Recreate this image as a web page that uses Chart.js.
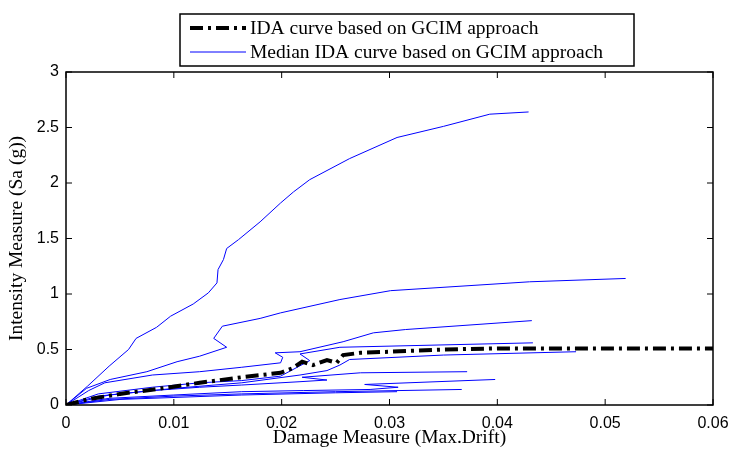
<!DOCTYPE html>
<html>
<head>
<meta charset="utf-8">
<script src="https://cdn.jsdelivr.net/npm/chart.js@4.4.1/dist/chart.umd.min.js"></script>
<style>
  html, body { margin: 0; padding: 0; background: #fff; }
  #wrap { width: 731px; height: 450px; }
</style>
</head>
<body>
<div id="wrap"><canvas id="myChart" width="731" height="450"></canvas></div>
<script>
// axis ticks
var xTicks = [0, 0.01, 0.02, 0.03, 0.04, 0.05, 0.06];
var xTickLabels = ['0', '0.01', '0.02', '0.03', '0.04', '0.05', '0.06'];
var yTicks = [0, 0.5, 1, 1.5, 2, 2.5, 3];
var yTickLabels = ['0', '0.5', '1', '1.5', '2', '2.5', '3'];

// IDA curve based on GCIM approach (black dash-dot)
var idaX = [0, 0.002, 0.005, 0.0089, 0.0124, 0.0163, 0.0199, 0.021, 0.0219, 0.0229, 0.0242, 0.0251, 0.0257, 0.0273, 0.03, 0.035, 0.04, 0.045, 0.06];
var idaY = [0, 0.05, 0.1, 0.15, 0.2, 0.25, 0.29, 0.33, 0.39, 0.36, 0.405, 0.38, 0.45, 0.47, 0.48, 0.5, 0.51, 0.51, 0.51];

// individual IDA curves (blue)
var c1X = [0, 0.002, 0.004, 0.0058, 0.0065, 0.0084, 0.0097, 0.0118, 0.0132, 0.014, 0.0141, 0.0146, 0.0149, 0.016, 0.018, 0.0199, 0.0211, 0.0226, 0.0263, 0.0307, 0.035, 0.0393, 0.0429];
var c1Y = [0, 0.17, 0.35, 0.5, 0.6, 0.7, 0.8, 0.91, 1.01, 1.1, 1.22, 1.31, 1.41, 1.49, 1.65, 1.82, 1.92, 2.03, 2.22, 2.41, 2.51, 2.62, 2.64];
var c2X = [0, 0.0019, 0.0041, 0.0075, 0.0103, 0.0124, 0.0149, 0.0137, 0.0145, 0.018, 0.0199, 0.0254, 0.0301, 0.043, 0.0519];
var c2Y = [0, 0.15, 0.23, 0.3, 0.39, 0.44, 0.52, 0.6, 0.71, 0.78, 0.83, 0.95, 1.03, 1.11, 1.14];
var c3X = [0, 0.0021, 0.0036, 0.008, 0.0124, 0.0163, 0.0199, 0.0201, 0.0194, 0.0217, 0.0257, 0.0285, 0.0315, 0.0432];
var c3Y = [0, 0.13, 0.2, 0.27, 0.3, 0.34, 0.38, 0.43, 0.47, 0.48, 0.57, 0.65, 0.68, 0.76];
var c4X = [0, 0.003, 0.008, 0.0124, 0.0163, 0.0199, 0.0226, 0.0217, 0.0254, 0.0433];
var c4Y = [0, 0.1, 0.16, 0.2, 0.22, 0.26, 0.4, 0.46, 0.52, 0.56];
var c5X = [0, 0.004, 0.01, 0.0163, 0.0217, 0.0242, 0.0254, 0.0263, 0.035, 0.0473];
var c5Y = [0, 0.09, 0.15, 0.2, 0.27, 0.31, 0.36, 0.41, 0.45, 0.48];
var c6X = [0, 0.003, 0.008, 0.0124, 0.0163, 0.0217, 0.0242, 0.0219, 0.0273, 0.0372];
var c6Y = [0, 0.08, 0.13, 0.16, 0.18, 0.21, 0.225, 0.25, 0.29, 0.3];
var c7X = [0, 0.004, 0.01, 0.0163, 0.022, 0.0282, 0.0308, 0.0277, 0.0398];
var c7Y = [0, 0.06, 0.09, 0.12, 0.13, 0.14, 0.16, 0.185, 0.23];
var c8X = [0, 0.004, 0.01, 0.0163, 0.025, 0.0367];
var c8Y = [0, 0.05, 0.08, 0.1, 0.12, 0.14];
var c9X = [0, 0.005, 0.0163, 0.025, 0.0307];
var c9Y = [0, 0.05, 0.09, 0.11, 0.12];

function pts(xs, ys) {
    return xs.map(function (v, i) { return { x: v, y: ys[i] }; });
}

function blue(xs, ys, label) {
    return {
        label: label,
        data: pts(xs, ys),
        showLine: true,
        borderColor: '#0000ff',
        borderWidth: 1,
        pointRadius: 0,
        fill: false
    };
}

var boxPlugin = {
    id: 'box',
    afterDraw: function (chart) {
        var ctx = chart.ctx, a = chart.chartArea;
        var xs = chart.scales.x, ys = chart.scales.y;
        ctx.save();
        ctx.strokeStyle = '#000';
        ctx.lineWidth = 1.5;
        ctx.strokeRect(a.left, a.top, a.right - a.left, a.bottom - a.top);
        ctx.lineWidth = 1;
        ctx.beginPath();
        xTicks.forEach(function (v) {
            var p = xs.getPixelForValue(v);
            ctx.moveTo(p, a.bottom); ctx.lineTo(p, a.bottom - 6);
            ctx.moveTo(p, a.top); ctx.lineTo(p, a.top + 6);
        });
        yTicks.forEach(function (v) {
            var p = ys.getPixelForValue(v);
            ctx.moveTo(a.left, p); ctx.lineTo(a.left + 6, p);
            ctx.moveTo(a.right, p); ctx.lineTo(a.right - 6, p);
        });
        ctx.stroke();

        // legend box
        var lx = 180, ly = 14, lw = 454, lh = 52;
        ctx.fillStyle = '#fff';
        ctx.fillRect(lx, ly, lw, lh);
        ctx.lineWidth = 1.5;
        ctx.strokeRect(lx, ly, lw, lh);
        var items = chart.data.datasets.filter(function (d) { return d.label; });
        ctx.font = '19.5px "Liberation Serif", "Times New Roman", serif';
        ctx.textBaseline = 'middle';
        ctx.fillStyle = '#000';
        items.forEach(function (d, i) {
            var yy = ly + 14 + i * 24;
            ctx.beginPath();
            ctx.strokeStyle = d.borderColor;
            ctx.lineWidth = d.borderWidth;
            ctx.setLineDash(d.borderDash || []);
            ctx.moveTo(lx + 10, yy);
            ctx.lineTo(lx + 66, yy);
            ctx.stroke();
            ctx.setLineDash([]);
            ctx.fillText(d.label, lx + 70, yy + 1);
        });
        ctx.restore();
    }
};

var myChart;

function createChart() {
    var ctx = document.getElementById('myChart').getContext('2d');
    myChart = new Chart(ctx, {
        type: 'scatter',
        data: {
            datasets: [
                {
                    label: 'IDA curve based on GCIM approach',
                    data: pts(idaX, idaY),
                    showLine: true,
                    borderColor: '#000',
                    borderWidth: 4,
                    borderDash: [13, 5, 3, 5],
                    borderCapStyle: 'butt',
                    pointRadius: 0,
                    fill: false
                },
                blue(c1X, c1Y, 'Median IDA curve based on GCIM approach'),
                blue(c2X, c2Y),
                blue(c3X, c3Y),
                blue(c4X, c4Y),
                blue(c5X, c5Y),
                blue(c6X, c6Y),
                blue(c7X, c7Y),
                blue(c8X, c8Y),
                blue(c9X, c9Y)
            ]
        },
        options: {
            responsive: false,
            animation: false,
            layout: { padding: { top: 72, right: 0, left: 0, bottom: 0 } },
            plugins: {
                legend: { display: false },
                tooltip: { enabled: false }
            },
            scales: {
                x: {
                    type: 'linear',
                    min: 0,
                    max: 0.06,
                    grid: { display: false, drawTicks: false },
                    border: { display: false },
                    afterBuildTicks: function (s) { s.ticks = xTicks.map(function (v) { return { value: v }; }); },
                    afterFit: function (s) { s.height = 45; s.paddingRight = 18; },
                    ticks: {
                        padding: 9,
                        color: '#000',
                        font: { family: '"Liberation Sans", Arial, sans-serif', size: 16 },
                        callback: function (v, i) { return xTickLabels[i]; }
                    },
                    title: {
                        display: true,
                        text: 'Damage Measure (Max.Drift)',
                        color: '#000',
                        font: { family: '"Liberation Serif", "Times New Roman", serif', size: 19.5 },
                        padding: { top: 0, bottom: 0 }
                    }
                },
                y: {
                    type: 'linear',
                    min: 0,
                    max: 3,
                    grid: { display: false, drawTicks: false },
                    border: { display: false },
                    afterBuildTicks: function (s) { s.ticks = yTicks.map(function (v) { return { value: v }; }); },
                    afterFit: function (s) { s.width = 66; },
                    ticks: {
                        padding: 7,
                        color: '#000',
                        font: { family: '"Liberation Sans", Arial, sans-serif', size: 16 },
                        callback: function (v, i) { return yTickLabels[i]; }
                    },
                    title: {
                        display: true,
                        text: 'Intensity Measure (Sa (g))',
                        color: '#000',
                        font: { family: '"Liberation Serif", "Times New Roman", serif', size: 19.5 },
                        padding: { top: 5, bottom: 0 }
                    }
                }
            }
        },
        plugins: [boxPlugin]
    });
}

document.addEventListener("DOMContentLoaded", function () {
    createChart();
});
</script>
</body>
</html>
